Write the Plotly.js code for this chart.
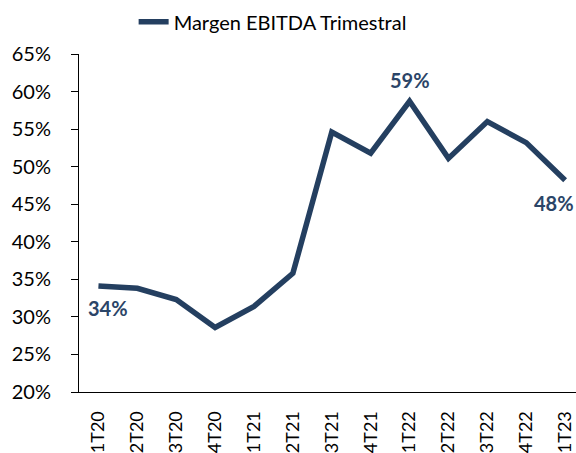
<!DOCTYPE html>
<html>
<head>
<meta charset="utf-8">
<script src="https://cdn.plot.ly/plotly-3.0.1.min.js"></script>
<style>html,body{margin:0;padding:0;background:#fff;}#chart{width:576px;height:453px;}</style>
</head>
<body>
<div id="chart"></div>
<script>
const categories = ['1T20','2T20','3T20','4T20','1T21','2T21','3T21','4T21','1T22','2T22','3T22','4T22','1T23'];
const margen = [34.1, 33.8, 32.3, 28.6, 31.4, 35.8, 54.6, 51.8, 58.7, 51.1, 56.0, 53.2, 48.2];
const seriesName = 'Margen EBITDA Trimestral';
const labeledIdx = [0, 8, 12];
const labelText = ['34%', '59%', '48%'];

const lineColor = '#243F60';
const labelColor = '#2B4568';
const font = 'Lato, "Open Sans", sans-serif';

const labelOffsets = [[10, -22], [0, 21], [-11, -23]];
const annotations = labeledIdx.map((idx, k) => ({
  x: categories[idx], y: margen[idx], xref: 'x', yref: 'y',
  text: labelText[k], showarrow: false,
  xshift: labelOffsets[k][0], yshift: labelOffsets[k][1],
  font: {family: font, size: 20, color: labelColor, weight: 'bold'}
}));

const trace = {
  x: categories, y: margen, type: 'scatter', mode: 'lines', name: seriesName,
  line: {color: lineColor, width: 5.5, shape: 'linear'},
  hoverinfo: 'skip'
};

const layout = {
  width: 576, height: 453,
  margin: {l: 79, r: 0, t: 54, b: 61, pad: 0},
  paper_bgcolor: '#ffffff', plot_bgcolor: '#ffffff',
  font: {family: font, size: 19, color: '#000000'},
  showlegend: true,
  legend: {orientation: 'h', xref: 'container', yref: 'container', x: 0.232, y: 0.995, xanchor: 'left', yanchor: 'top',
           font: {family: font, size: 20, color: '#000000'}, bgcolor: 'rgba(0,0,0,0)'},
  xaxis: {
    type: 'category', range: [-0.5, 12.28], showgrid: false, zeroline: false,
    showline: true, linecolor: '#000000', linewidth: 1,
    ticks: '', tickangle: -90, ticklabelstandoff: 11,
    tickfont: {family: font, size: 18, color: '#000000'}, fixedrange: true
  },
  yaxis: {
    range: [20, 65], dtick: 5, tick0: 20, ticksuffix: '%', showgrid: false, zeroline: false,
    showline: true, linecolor: '#000000', linewidth: 1,
    ticks: 'outside', ticklen: 7, tickcolor: '#000000', ticklabelstandoff: 16,
    tickfont: {family: font, size: 20, color: '#000000'}, fixedrange: true
  },
  annotations: annotations
};

Plotly.newPlot('chart', [trace], layout, {staticPlot: true, displayModeBar: false});
</script>
</body>
</html>
